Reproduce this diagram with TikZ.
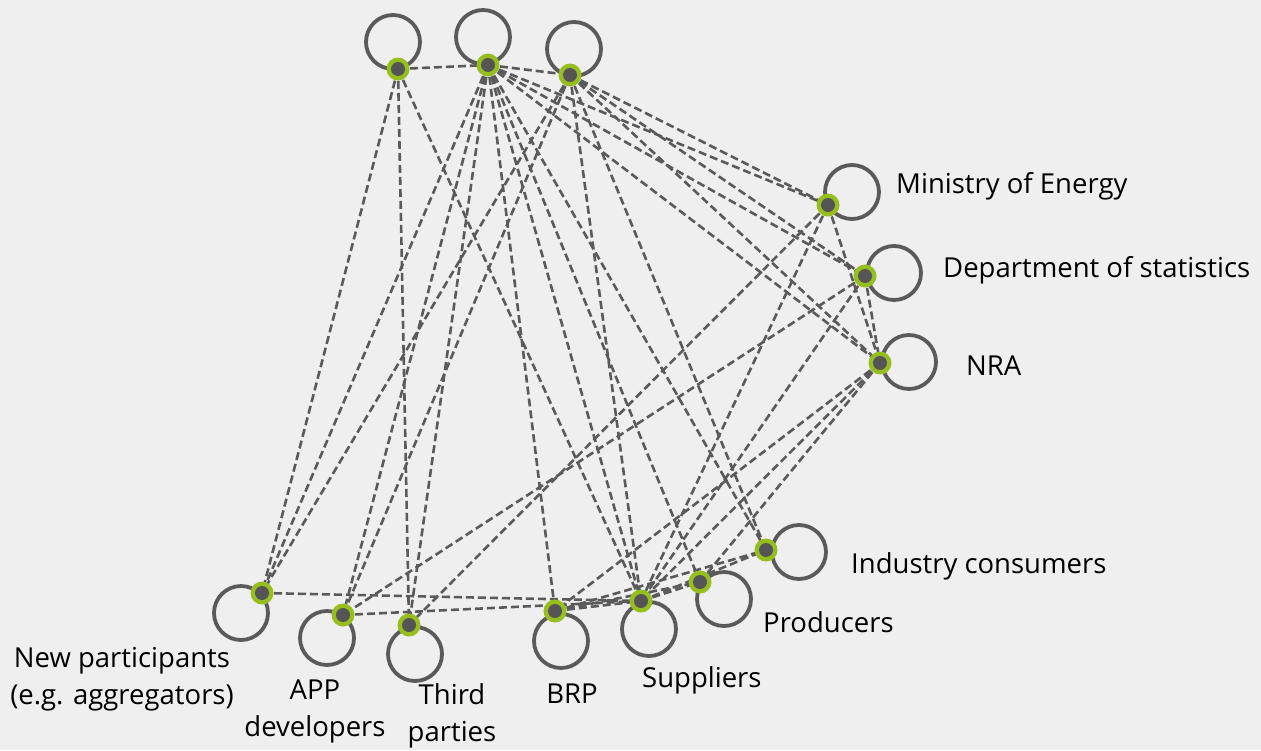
\documentclass[tikz,border=0pt]{standalone}
\usepackage{fontspec}
\setmainfont{Open Sans}
\usetikzlibrary{backgrounds}
\definecolor{bgc}{RGB}{239,239,239}
\definecolor{lineg}{RGB}{90,90,90}
\definecolor{loopg}{RGB}{90,90,90}
\definecolor{vgreen}{RGB}{150,190,30}
\definecolor{dotg}{RGB}{85,85,85}
\begin{document}
\begin{tikzpicture}[x=1pt,y=-1pt,
  edge/.style={draw=lineg, line width=2.6pt, dash pattern=on 8pt off 4pt},
  loopc/.style={draw=loopg, line width=3.8pt},
  vtx/.style={circle, fill=vgreen, minimum size=23pt, inner sep=0pt,
    path picture={\fill[dotg] (path picture bounding box.center) circle (7pt);}},
  lbl/.style={font=\fontsize{27.5}{37}\selectfont, text=black, align=center, inner sep=0pt}]
\useasboundingbox (0,0) rectangle (1261,750);
% vertices
\node[vtx] (t1) at (398,69) {};
\node[vtx] (t2) at (488,65) {};
\node[vtx] (t3) at (570,75) {};
\node[vtx] (me) at (828,205) {};
\node[vtx] (ds) at (865,276) {};
\node[vtx] (nra) at (880,363) {};
\node[vtx] (ic) at (766,550) {};
\node[vtx] (pr) at (700,582) {};
\node[vtx] (su) at (641,601) {};
\node[vtx] (brp) at (555,611) {};
\node[vtx] (tp) at (409,625) {};
\node[vtx] (app) at (343,615) {};
\node[vtx] (np) at (262,593) {};
\begin{scope}[on background layer]
\fill[bgc] (0,0) rectangle (1261,750);
% edges
\foreach \a/\b in {t1/t2, t2/t3,
  t1/np, t1/tp, t1/su,
  t2/np, t2/app, t2/tp, t2/brp, t2/su, t2/pr, t2/ic, t2/me, t2/ds, t2/nra,
  t3/np, t3/app, t3/su, t3/ic, t3/me, t3/ds, t3/nra,
  me/nra, me/tp, me/su,
  ds/nra, ds/app, ds/su,
  nra/brp, nra/su, nra/pr,
  np/su, app/su, brp/su, brp/pr, brp/ic, su/pr, su/ic}
  \draw[edge] (\a.center) -- (\b.center);
% self loops
\draw[loopc] (t1.center)  ++(-5,-27) circle (27pt);
\draw[loopc] (t2.center)  ++(-5,-28) circle (27pt);
\draw[loopc] (t3.center)  ++(4,-26)  circle (27pt);
\draw[loopc] (me.center)  ++(24,-13) circle (27pt);
\draw[loopc] (ds.center)  ++(29,-3)  circle (27pt);
\draw[loopc] (nra.center) ++(29,-1)  circle (27pt);
\draw[loopc] (ic.center)  ++(33,2)   circle (27pt);
\draw[loopc] (pr.center)  ++(24,17)  circle (27pt);
\draw[loopc] (su.center)  ++(8,28)   circle (27pt);
\draw[loopc] (brp.center) ++(6,30)   circle (27pt);
\draw[loopc] (tp.center)  ++(6,29)   circle (27pt);
\draw[loopc] (app.center) ++(-16,23) circle (27pt);
\draw[loopc] (np.center)  ++(-21,20) circle (27pt);
\end{scope}
% labels
\node[lbl, anchor=west] (lme) at (896,186) {Ministry of Energy};
\node[lbl, anchor=west] (lds) at (943,270) {Department of statistics};
\node[lbl, anchor=west] (lnra) at (966,366) {NRA};
\node[lbl, anchor=west] (lic) at (851,566) {Industry consumers};
\node[lbl, anchor=west] (lpr) at (763,622) {Producers};
\node[lbl, anchor=west] (lsu) at (642,680) {Suppliers};
\node[lbl] (lbrp) at (572,694) {BRP};
\node[lbl] (ltp) at (452,716) {Third\\parties};
\node[lbl] (lapp) at (315,711) {APP\\developers};
\node[lbl] (lnp) at (122,679) {New participants\\(e.g. aggregators)};
\end{tikzpicture}
\end{document}
